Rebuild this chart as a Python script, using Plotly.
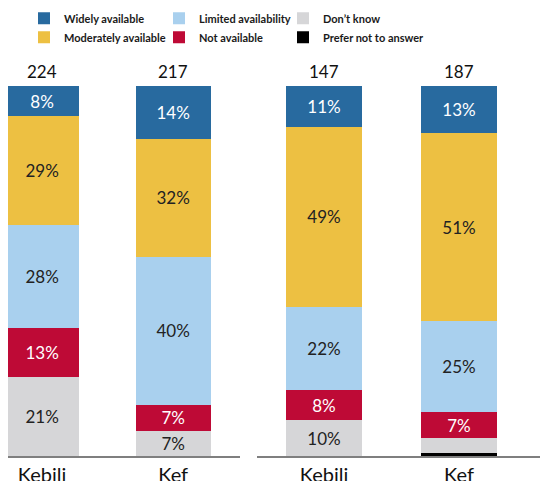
import plotly.graph_objects as go

categories = ["Kebili", "Kef"]
series_names = ["Prefer not to answer", "Don\u2019t know", "Not available",
                "Limited availability", "Moderately available", "Widely available"]
colors = ["#000000", "#D6D6D8", "#BE0A36", "#A9D0EE", "#EDC042", "#286A9F"]
text_colors = ["#FFFFFF", "#222222", "#FFFFFF", "#222222", "#222222", "#FFFFFF"]
# legend column (1..3) and row order within the column
legend_col = [3, 3, 2, 2, 1, 1]
legend_rank = [2, 1, 2, 1, 2, 1]

# percentages, bottom to top, per series: [Kebili, Kef]
left_values = {
    "Prefer not to answer": [0.0, 0.0],
    "Don\u2019t know": [21.4, 6.8],
    "Not available": [13.1, 7.0],
    "Limited availability": [27.9, 40.0],
    "Moderately available": [29.4, 31.9],
    "Widely available": [8.2, 14.3],
}
right_values = {
    "Prefer not to answer": [0.0, 0.8],
    "Don\u2019t know": [9.6, 4.0],
    "Not available": [8.3, 7.0],
    "Limited availability": [22.4, 24.6],
    "Moderately available": [48.6, 50.8],
    "Widely available": [11.1, 12.8],
}
left_n = [224, 217]
right_n = [147, 187]

FONT = "Lato"
fig = go.Figure()

def label(v):
    return f"{v:.0f}%" if v >= 5 else ""

legend_ids = {1: "legend", 2: "legend2", 3: "legend3"}

for panel, (vals, xa, ya, width) in enumerate([(left_values, "x", "y", 0.57),
                                               (right_values, "x2", "y2", 0.556)]):
    for i, name in enumerate(series_names):
        v = vals[name]
        fig.add_trace(go.Bar(
            x=categories, y=v, name=name, xaxis=xa, yaxis=ya,
            marker=dict(color=colors[i], line=dict(width=0)),
            width=width,
            text=[label(t) for t in v], textposition="inside",
            insidetextanchor="middle", textangle=0, constraintext="none",
            textfont=dict(family=FONT, size=17, color=text_colors[i]),
            showlegend=(panel == 0), legendgroup=name, legendrank=legend_rank[i],
            legend=legend_ids[legend_col[i]],
            hoverinfo="skip",
        ))

for cat, n in zip(categories, left_n):
    fig.add_annotation(x=cat, y=100, xref="x", yref="y", text=str(n), showarrow=False,
                       yanchor="bottom", yshift=2, font=dict(family=FONT, size=17, color="#111111"))
for cat, n in zip(categories, right_n):
    fig.add_annotation(x=cat, y=100, xref="x2", yref="y2", text=str(n), showarrow=False,
                       yanchor="bottom", yshift=2, font=dict(family=FONT, size=17, color="#111111"))

axis_common = dict(showgrid=False, zeroline=False, showline=True, linecolor="#7F7F7F",
                   linewidth=2, ticks="", tickfont=dict(family=FONT, size=20, color="#111111"),
                   fixedrange=True, automargin=False)
legend_common = dict(orientation="v", xanchor="left", yanchor="top", y=1.222,
                     traceorder="normal", itemwidth=30,
                     font=dict(family=FONT, size=11, color="#1A1A1A", weight="bold"),
                     tracegroupgap=0, bgcolor="rgba(0,0,0,0)")
fig.update_layout(
    width=540, height=481,
    margin=dict(l=0, r=0, t=86, b=25, autoexpand=False),
    paper_bgcolor="white", plot_bgcolor="white",
    barmode="stack",
    xaxis=dict(domain=[8 / 540, 240 / 540], range=[-0.26, 1.51], **axis_common),
    xaxis2=dict(domain=[257 / 540, 1.0], range=[-0.496, 1.6], anchor="y2", **axis_common),
    yaxis=dict(range=[0, 100], visible=False, domain=[0, 1], automargin=False),
    yaxis2=dict(range=[0, 100], visible=False, anchor="x2", domain=[0, 1], automargin=False),
    legend=dict(x=24 / 540, **legend_common),
    legend2=dict(x=159 / 540, **legend_common),
    legend3=dict(x=283 / 540, **legend_common),
    font=dict(family=FONT),
    uniformtext=dict(minsize=8, mode="show"),
)

fig.write_html("out.html")
